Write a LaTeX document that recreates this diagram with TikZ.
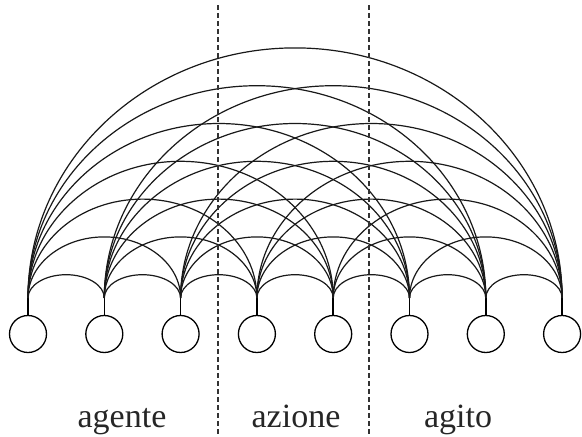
\documentclass[tikz,border=0pt]{standalone}
\usepackage{fontspec}
\setmainfont{Liberation Serif}
\begin{document}
\begin{tikzpicture}[x=1pt,y=-1pt,
  unit/.style={circle,draw,line width=1.3pt,minimum size=37pt,inner sep=0pt},
  link/.style={line width=1.2pt, black!90},
  stem/.style={line width=1.6pt},
  divider/.style={dash pattern=on 5pt off 3pt, line width=1.4pt, black!80},
  lab/.style={font=\fontsize{34}{40}\selectfont, anchor=base, inner sep=0pt, text=black!85}]
\useasboundingbox (0,0) rectangle (582,437);
\foreach \i in {0,...,7} {
  \node[unit] (c\i) at ({28+76.3*\i},334) {};
  \coordinate (t\i) at ({28+76.3*\i},298);
  \draw[stem] (t\i) -- (c\i.north);
}
\foreach \k in {1,...,7} {
  \pgfmathtruncatemacro\last{7-\k}
  \foreach \i in {0,...,\last} {
    \draw[link] (t\i) arc[start angle=180, end angle=360, x radius={38.15*\k}, y radius={37.8*\k-14.5}];
  }
}
\coordinate (d1t) at (218,5);
\coordinate (d1b) at (218,437);
\coordinate (d2t) at (369,5);
\coordinate (d2b) at (369,437);
\draw[divider] (d1t) -- (d1b);
\draw[divider] (d2t) -- (d2b);
\node[lab] (l1) at (122,427) {agente};
\node[lab] (l2) at (296,427) {azione};
\node[lab] (l3) at (458,427) {agito};
\end{tikzpicture}
\end{document}
